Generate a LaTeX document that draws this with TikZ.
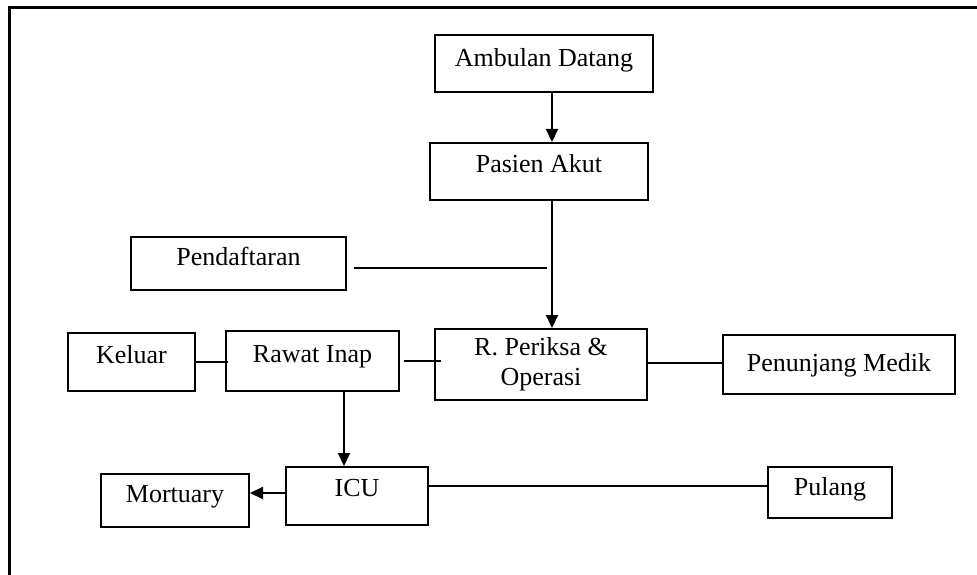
\documentclass[tikz,border=0pt]{standalone}
\usepackage{fontspec}
\setmainfont{Liberation Serif}
\usetikzlibrary{arrows.meta}

\tikzset{
  box/.style={draw, line width=2pt, inner sep=0pt, anchor=base,
              font=\fontsize{26}{30}\selectfont},
  link/.style={line width=2pt},
  flow/.style={line width=2pt, -{Triangle[length=13pt,width=12pt]}},
  frame/.style={line width=3.5pt}
}

\begin{document}
\begin{tikzpicture}[x=1pt,y=-1pt]
  \useasboundingbox (0,0) rectangle (977,575);

  % page frame (only its left and top sides fall inside the sheet)
  \draw[frame] (9.5,575) |- (977,7.5);

  % process boxes: (centre x, baseline y), text height above / depth below the baseline
  \node[box, minimum width=218pt, text height=32pt, text depth=25pt] (amb)    at (544,67)    {Ambulan Datang};
  \node[box, minimum width=218pt, text height=29pt, text depth=28pt] (pasien) at (539,172)   {Pasien Akut};
  \node[box, minimum width=215pt, text height=28pt, text depth=25pt] (daftar) at (238.5,265) {Pendaftaran};
  \node[box, anchor=center, minimum width=212pt, minimum height=71pt, align=center] (periksa) at (541,364.5) {R. Periksa \&\\Operasi};
  \node[box, minimum width=127pt, text height=30pt, text depth=28pt] (keluar) at (131.5,363) {Keluar};
  \node[box, minimum width=173pt, text height=31pt, text depth=29pt] (rawat)  at (312.5,362) {Rawat Inap};
  \node[box, minimum width=232pt, text height=36pt, text depth=23pt] (medik)  at (839,371)   {Penunjang Medik};
  \node[box, minimum width=142pt, text height=29pt, text depth=29pt] (icu)    at (357,496)   {ICU};
  \node[box, minimum width=148pt, text height=28pt, text depth=25pt] (mort)   at (175,502)   {Mortuary};
  \node[box, minimum width=124pt, text height=28pt, text depth=23pt] (pulang) at (830,495)   {Pulang};

  % free end of the registration line
  \coordinate (dend) at (547,268);

  % arrows
  \draw[flow] ([xshift=8pt]amb.south) -- ([xshift=8pt]amb.south |- pasien.north);
  \draw[flow] ([xshift=13pt]pasien.south) -- ([xshift=13pt]pasien.south |- periksa.north);
  \draw[flow] ([xshift=31.5pt]rawat.south) -- ([xshift=31.5pt]rawat.south |- icu.north);
  \draw[flow] ([yshift=3pt]icu.west) -- ([yshift=3pt]icu.west -| mort.east);

  % plain links
  \draw[link] ([xshift=7pt]daftar.east |- dend) -- (dend);
  \draw[link] (keluar.east) -- ([xshift=3pt]keluar.east -| rawat.west);
  \draw[link] ([xshift=4pt]rawat.east) -- ([xshift=7pt]rawat.east -| periksa.west);
  \draw[link] ([yshift=1.5pt]periksa.east) -- ([yshift=1.5pt]periksa.east -| medik.west);
  \draw[link] ([yshift=10pt]icu.east) -- ([yshift=10pt]icu.east -| pulang.west);
\end{tikzpicture}
\end{document}
